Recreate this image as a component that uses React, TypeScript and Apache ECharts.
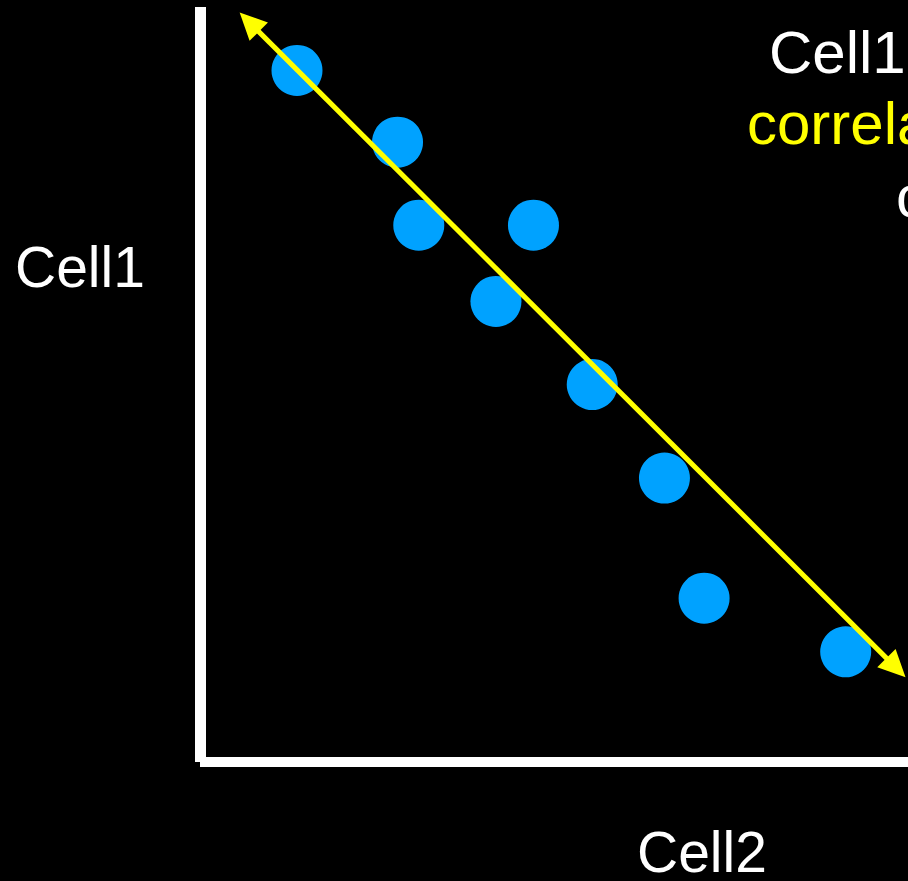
import React, { useEffect, useRef } from "react";
import * as echarts from "echarts";

// Scatter values (Cell2 on x, Cell1 on y), arbitrary 0–10 units
const cell2Values = [1.37, 2.79, 3.09, 4.71, 4.18, 5.54, 6.56, 7.12, 9.12];
const cell1Values = [9.16, 8.21, 7.11, 7.11, 6.1, 5.0, 3.76, 2.17, 1.46];

// Trend arrow end points (centres of the arrow heads)
const trendStart = [0.695, 9.8];
const trendEnd = [9.83, 1.25];

const axisRange = [0, 10];

const yAxisLabel = "Cell1";
const xAxisLabel = "Cell2";
const noteLines = ["Cell1", "correla", "c"];

const FONT = "'Liberation Sans', Arial, Helvetica, sans-serif";

export default function App() {
  const ref = useRef<HTMLDivElement>(null);

  useEffect(() => {
    if (!ref.current) return;
    const chart = echarts.init(ref.current, undefined, { renderer: "svg" });
    const points = cell2Values.map((x, i) => [x, cell1Values[i]]);
    const textStyle = (text: string, fill: string, size: number) => ({
      text,
      fill,
      font: `${size}px ${FONT}`,
      textAlign: "left",
      textVerticalAlign: "middle",
      lineHeight: Math.round(size * 0.85),
    });
    chart.setOption({
      animation: false,
      backgroundColor: "#000000",
      grid: { left: 200, right: 0, top: 7, bottom: 119, containLabel: false },
      xAxis: {
        type: "value",
        min: axisRange[0],
        max: axisRange[1],
        axisLine: { show: true, onZero: false, lineStyle: { color: "#ffffff", width: 10, cap: "butt" } },
        axisTick: { show: false },
        axisLabel: { show: false },
        splitLine: { show: false },
      },
      yAxis: {
        type: "value",
        min: axisRange[0],
        max: axisRange[1],
        axisLine: { show: true, onZero: false, lineStyle: { color: "#ffffff", width: 11, cap: "butt" } },
        axisTick: { show: false },
        axisLabel: { show: false },
        splitLine: { show: false },
      },
      series: [
        {
          type: "scatter",
          data: points,
          symbol: "circle",
          symbolSize: 51,
          itemStyle: { color: "#00A2FF", opacity: 1 },
          clip: false,
          z: 2,
          markLine: {
            silent: true,
            animation: false,
            symbol: ["triangle", "triangle"],
            symbolSize: [26, 27],
            label: { show: false },
            lineStyle: { color: "#FFFF00", width: 5, type: "solid", opacity: 1 },
            emphasis: { disabled: true },
            data: [[{ coord: trendStart }, { coord: trendEnd }]],
          },
        },
      ],
      graphic: [
        { type: "text", x: 15, y: 267, style: textStyle(yAxisLabel, "#ffffff", 57) },
        { type: "text", x: 637, y: 852, style: textStyle(xAxisLabel, "#ffffff", 57) },
        { type: "text", x: 769, y: 52, style: textStyle(noteLines[0], "#ffffff", 60) },
        { type: "text", x: 747, y: 123, style: textStyle(noteLines[1], "#FFFF00", 60) },
        { type: "text", x: 896, y: 196, style: textStyle(noteLines[2], "#ffffff", 60) },
      ],
    });
    return () => chart.dispose();
  }, []);

  return (
    <div
      ref={ref}
      style={{ position: "fixed", left: 0, top: 0, width: 908, height: 881, background: "#000" }}
    />
  );
}
